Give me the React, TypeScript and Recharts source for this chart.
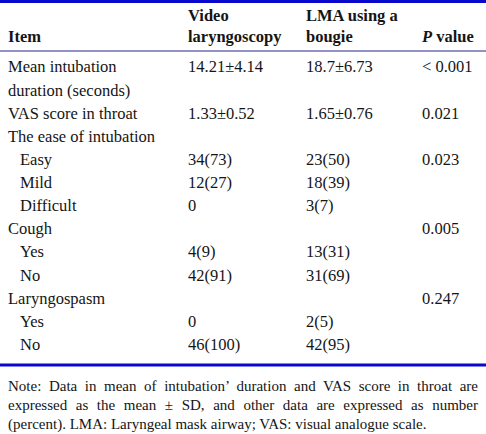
import { ScatterChart, Scatter, XAxis, YAxis } from "recharts";

// table content
const headerTop = ["", "Video", "LMA using a", ""];
const headerBottom = ["Item", "laryngoscopy", "bougie", "P value"];

const items = [
  "Mean intubation",
  "duration (seconds)",
  "VAS score in throat",
  "The ease of intubation",
  "Easy",
  "Mild",
  "Difficult",
  "Cough",
  "Yes",
  "No",
  "Laryngospasm",
  "Yes",
  "No",
];
const subItem = [false, false, false, false, true, true, true, false, true, true, false, true, true];
const videoValues = ["14.21±4.14", "", "1.33±0.52", "", "34(73)", "12(27)", "0", "", "4(9)", "42(91)", "", "0", "46(100)"];
const lmaValues = ["18.7±6.73", "", "1.65±0.76", "", "23(50)", "18(39)", "3(7)", "", "13(31)", "31(69)", "", "2(5)", "42(95)"];
const pValues = ["< 0.001", "", "0.021", "", "0.023", "", "", "0.005", "", "", "0.247", "", ""];

const note =
  "Note: Data in mean of intubation’ duration and VAS score in throat are expressed as the mean ± SD, and other data are expressed as number (percent). LMA: Laryngeal mask airway; VAS: visual analogue scale.";

// layout
const W = 486;
const COL_X = [8, 188, 306, 422];
const INDENT = 12;
const FONT = '"Liberation Serif", "DejaVu Serif", "Noto Serif", "Times New Roman", Times, serif';
const THICK = "#0808cc";
const THIN = "#26268a";

const toPoints = (values: string[], col: number) =>
  values
    .map((label, i) => ({
      x: COL_X[col] + (col === 0 && subItem[i] ? INDENT : 0),
      row: i,
      label,
    }))
    .filter((d) => d.label !== "");

const columnsData = [
  toPoints(items, 0),
  toPoints(videoValues, 1),
  toPoints(lmaValues, 2),
  toPoints(pValues, 3),
];

const CellText = (props: any) => (
  <text
    x={props.cx}
    y={props.cy}
    dominantBaseline="central"
    style={{ fontSize: 16.5, fontFamily: FONT }}
    fill="#151515"
  >
    {props.payload.label}
  </text>
);

const HeaderTick = (props: any) => {
  let i = COL_X.indexOf(Number(props.payload?.value));
  if (i < 0) i = props.index ?? 0;
  const bottom = headerBottom[i] ?? "";
  return (
    <text
      x={props.x}
      style={{ fontSize: 16.5, fontFamily: FONT, fontWeight: "bold" }}
      fill="#151515"
      textAnchor="start"
      dominantBaseline="central"
    >
      {headerTop[i] ? (
        <tspan x={props.x} y={12}>
          {headerTop[i]}
        </tspan>
      ) : null}
      {bottom.startsWith("P ") ? (
        <tspan x={props.x} y={33}>
          <tspan style={{ fontStyle: "italic" }}>P</tspan>
          {bottom.slice(1)}
        </tspan>
      ) : (
        <tspan x={props.x} y={33}>
          {bottom}
        </tspan>
      )}
    </text>
  );
};

export default function App() {
  return (
    <div
      style={{
        width: W,
        height: 434,
        background: "#fff",
        borderTop: `3px solid ${THICK}`,
        boxSizing: "border-box",
        fontFamily: FONT,
        overflow: "hidden",
      }}
    >
      <style>{"body{margin:0}"}</style>
      <ScatterChart width={W} height={364} margin={{ top: 0, right: 0, bottom: 0, left: 0 }}>
        <XAxis
          xAxisId="top"
          orientation="top"
          type="number"
          dataKey="x"
          domain={[0, W]}
          allowDataOverflow
          ticks={COL_X}
          interval={0}
          height={48}
          tickLine={false}
          axisLine={{ stroke: THIN, strokeWidth: 1.2 }}
          tick={HeaderTick}
        />
        <XAxis
          xAxisId="bottom"
          orientation="bottom"
          type="number"
          dataKey="x"
          domain={[0, W]}
          allowDataOverflow
          height={2}
          tick={false}
          tickLine={false}
          axisLine={{ stroke: THICK, strokeWidth: 3 }}
        />
        <YAxis type="number" dataKey="row" domain={[-0.69, 12.89]} reversed hide allowDataOverflow />
        {columnsData.map((d, c) => (
          <Scatter
            key={c}
            data={d}
            xAxisId="bottom"
            shape={<CellText />}
            isAnimationActive={false}
          />
        ))}
        {/* invisible series so the header axis gets the same domain */}
        <Scatter data={columnsData[0]} xAxisId="top" shape={() => null} isAnimationActive={false} />
      </ScatterChart>
      <div
        style={{
          marginTop: 10,
          padding: "0 8px",
          fontSize: 15,
          lineHeight: "19px",
          textAlign: "justify",
          color: "#151515",
        }}
      >
        {note}
      </div>
    </div>
  );
}
